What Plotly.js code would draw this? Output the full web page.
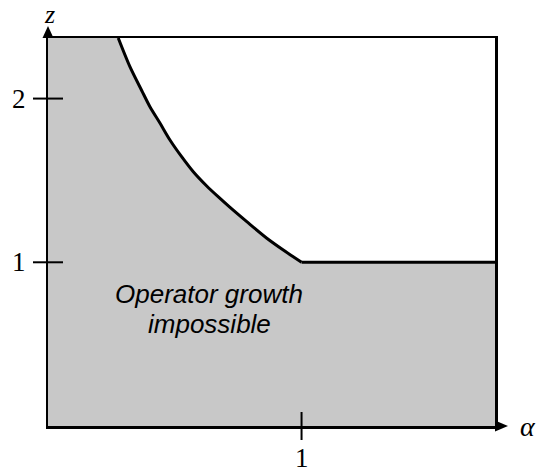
<!DOCTYPE html>
<html><head><meta charset="utf-8">
<script src="https://cdn.plot.ly/plotly-3.0.1.min.js"></script>
<style>html,body{margin:0;padding:0;background:#fff}#plot{width:548px;height:472px}</style>
</head><body><div id="plot"></div>
<script>
// Axis ranges
const alphaMax = 1.763;
const zMax = 2.37;
// Boundary curve (alpha, z), for alpha <= 1
const curveAlpha = [0.277, 0.323, 0.370, 0.402, 0.442, 0.481, 0.527, 0.573, 0.626, 0.672, 0.718, 0.784, 0.863, 0.928, 1.0];
const curveZ     = [2.37, 2.195, 2.048, 1.950, 1.849, 1.747, 1.645, 1.553, 1.466, 1.399, 1.335, 1.248, 1.147, 1.075, 1.0];
// Flat boundary for alpha >= 1
const flatAlpha = [1.0, 1.763];
const flatZ     = [1.0, 1.0];
// Tick values and labels
const xTickVals = [1];
const xTickText = ['1'];
const yTickVals = [1, 2];
const yTickText = ['1', '2'];
const regionLines = ['Operator growth', 'impossible'];
const regionLineAlpha = [0.635, 0.635];
const regionLineZ = [0.806, 0.623];

const gray = 'rgb(200,200,200)';
const fillX = [0].concat(curveAlpha, flatAlpha.slice(1));
const fillY = [zMax].concat(curveZ, flatZ.slice(1));
const traces = [
  {x: fillX, y: fillY, mode: 'lines', fill: 'tozeroy', fillcolor: gray,
   line: {width: 0, color: 'rgba(0,0,0,0)'}, hoverinfo: 'skip', showlegend: false},
  {x: curveAlpha, y: curveZ, mode: 'lines',
   line: {width: 3, color: '#000', shape: 'spline', smoothing: 0.8}, hoverinfo: 'skip', showlegend: false},
  {x: flatAlpha, y: flatZ, mode: 'lines',
   line: {width: 3, color: '#000'}, hoverinfo: 'skip', showlegend: false}
];

const shapes = [];
xTickVals.forEach(v => shapes.push({type: 'line', xref: 'x', yref: 'paper', ysizemode: 'pixel', yanchor: 0,
  x0: v, x1: v, y0: -14, y1: 14, line: {color: '#000', width: 2}}));
yTickVals.forEach(v => shapes.push({type: 'line', yref: 'y', xref: 'paper', xsizemode: 'pixel', xanchor: 0,
  y0: v, y1: v, x0: -15, x1: 15, line: {color: '#000', width: 2}}));
// arrowheads
shapes.push({type: 'path', xref: 'paper', yref: 'paper', xsizemode: 'pixel', ysizemode: 'pixel',
  xanchor: 0, yanchor: 1, path: 'M -5.5,0 L 5.5,0 L 0,12 Z', fillcolor: '#000', line: {width: 0}});
shapes.push({type: 'path', xref: 'paper', yref: 'paper', xsizemode: 'pixel', ysizemode: 'pixel',
  xanchor: 1, yanchor: 0, path: 'M 0,-5.5 L 0,5.5 L 13,0 Z', fillcolor: '#000', line: {width: 0}});

const serif = 'Liberation Serif, DejaVu Serif, serif';
const annotations = [];
xTickVals.forEach((v, i) => annotations.push({x: v, xref: 'x', y: 0, yref: 'paper', yshift: -32,
  xanchor: 'center', yanchor: 'middle',
  text: xTickText[i], showarrow: false, font: {family: serif, size: 27, color: '#000'}}));
yTickVals.forEach((v, i) => annotations.push({y: v, yref: 'y', x: 0, xref: 'paper', xshift: -29,
  xanchor: 'center', yanchor: 'middle',
  text: yTickText[i], showarrow: false, font: {family: serif, size: 27, color: '#000'}}));
annotations.push({x: 0, xref: 'paper', y: 1, yref: 'paper', yshift: 24, xshift: 1, xanchor: 'center', yanchor: 'middle',
  text: 'z', showarrow: false, font: {family: serif, size: 26, color: '#000', style: 'italic'}});
annotations.push({x: 1, xref: 'paper', y: 0, yref: 'paper', xshift: 33, yshift: 0, xanchor: 'center', yanchor: 'middle',
  text: 'α', showarrow: false, font: {family: serif, size: 28, color: '#000', style: 'italic'}});
regionLines.forEach((t, i) => annotations.push({x: regionLineAlpha[i], y: regionLineZ[i], xref: 'x', yref: 'y',
  xanchor: 'center', yanchor: 'middle', text: t, showarrow: false,
  font: {family: 'Liberation Sans, Arial, sans-serif', size: 26, color: '#000', style: 'italic'}}));

const layout = {
  width: 548, height: 472,
  margin: {l: 48, r: 53, t: 38, b: 46},
  paper_bgcolor: '#fff', plot_bgcolor: '#fff',
  xaxis: {range: [0, alphaMax], showgrid: false, zeroline: false, showticklabels: false, ticks: '',
          showline: true, mirror: true, linecolor: '#000', linewidth: 2.5, fixedrange: true},
  yaxis: {range: [0, zMax], showgrid: false, zeroline: false, showticklabels: false, ticks: '',
          showline: true, mirror: true, linecolor: '#000', linewidth: 2.5, fixedrange: true},
  shapes: shapes, annotations: annotations
};
Plotly.newPlot('plot', traces, layout, {staticPlot: true});
</script></body></html>
